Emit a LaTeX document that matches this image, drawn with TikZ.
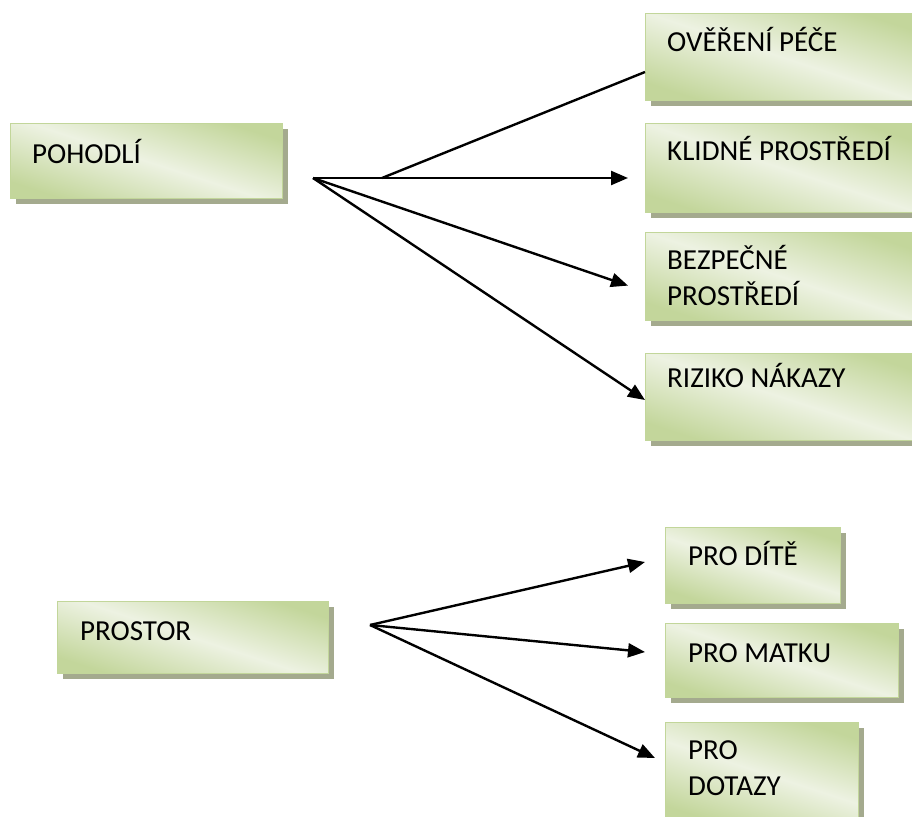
\documentclass[tikz,border=0pt]{standalone}
\usepackage{fontspec}
\setmainfont{Carlito}
\usetikzlibrary{arrows.meta,shadows,calc}
\definecolor{gdark}{HTML}{C3D69B}
\definecolor{gpale}{HTML}{EDF2E2}
\definecolor{gborder}{HTML}{C2D69A}
\definecolor{gshadow}{HTML}{A4AA8E}
\tikzset{
  gbox/.style={draw=gborder, line width=1.2pt, top color=gdark, bottom color=gdark, middle color=gpale, shading angle=-18,
    drop shadow={shadow xshift=5pt, shadow yshift=-5pt, fill=gshadow, opacity=1, draw=none},
    inner sep=0pt, anchor=north west},
  lbl/.style={font=\fontsize{29}{36}\selectfont, inner sep=0pt, anchor=base west, align=left, text=black},
  conn/.style={line width=2.4pt, black},
  arr/.style={conn, -{Triangle[length=17pt,width=14pt]}}
}
\newcommand\gboxat[5]{%
  \node[gbox, minimum width=#4-#2, minimum height=#5-#3] (#1) at (#2,#3) {};
}
\begin{document}
\begin{tikzpicture}[x=1pt,y=-1pt]
\path[use as bounding box, clip] (0,0) rectangle (912,816);
% boxes
\gboxat{poh}{10}{123}{282}{198}
\gboxat{ove}{645}{13}{918}{100}
\gboxat{kli}{645}{123}{918}{212}
\gboxat{bez}{645}{232}{918}{320}
\gboxat{riz}{645}{353}{918}{440}
\gboxat{pros}{57}{601}{328}{673}
\gboxat{dite}{665}{527}{840}{603}
\gboxat{matku}{665}{623}{898}{697}
\gboxat{dotazy}{665}{722}{858}{822}
% labels
\node[lbl] (poh-t) at ($(poh.north west)+(22,40)$) {POHODLÍ};
\node[lbl] (ove-t) at ($(ove.north west)+(22,39)$) {OVĚŘENÍ PÉČE};
\node[lbl] (kli-t) at ($(kli.north west)+(22,37)$) {KLIDNÉ PROSTŘEDÍ};
\node[lbl] (bez-t) at ($(bez.north west)+(22,73)$) {BEZPEČNÉ\\PROSTŘEDÍ};
\node[lbl] (riz-t) at ($(riz.north west)+(22,34)$) {RIZIKO NÁKAZY};
\node[lbl] (pros-t) at ($(pros.north west)+(23,39)$) {PROSTOR};
\node[lbl] (dite-t) at ($(dite.north west)+(23,38)$) {PRO DÍTĚ};
\node[lbl] (matku-t) at ($(matku.north west)+(23,39)$) {PRO MATKU};
\node[lbl] (dotazy-t) at ($(dotazy.north west)+(23,73)$) {PRO\\DOTAZY};
% connectors, upper fan
\coordinate (p0) at (313,178);
\coordinate (p1) at (382,178);
\coordinate (kli-in) at ($(kli.west |- p0)+(-17,0)$);
\coordinate (bez-in) at ($(bez.west)+(-17,9)$);
\coordinate (riz-in) at ($(riz.north west)+(0,47)$);
\coordinate (ove-in) at ($(ove.north west)+(0,59)$);
\draw[conn] (p1) -- (ove-in);
\draw[arr] (p0) -- (kli-in);
\draw[arr] (p0) -- (bez-in);
\draw[arr] (p0) -- (riz-in);
% connectors, lower fan
\coordinate (q0) at (370,625);
\coordinate (dite-in) at ($(dite.north west)+(-20,35)$);
\coordinate (matku-in) at ($(matku.north west)+(-20,29)$);
\coordinate (dotazy-in) at ($(dotazy.north west)+(-10,36)$);
\draw[arr] (q0) -- (dite-in);
\draw[arr] (q0) -- (matku-in);
\draw[arr] (q0) -- (dotazy-in);
\end{tikzpicture}
\end{document}
